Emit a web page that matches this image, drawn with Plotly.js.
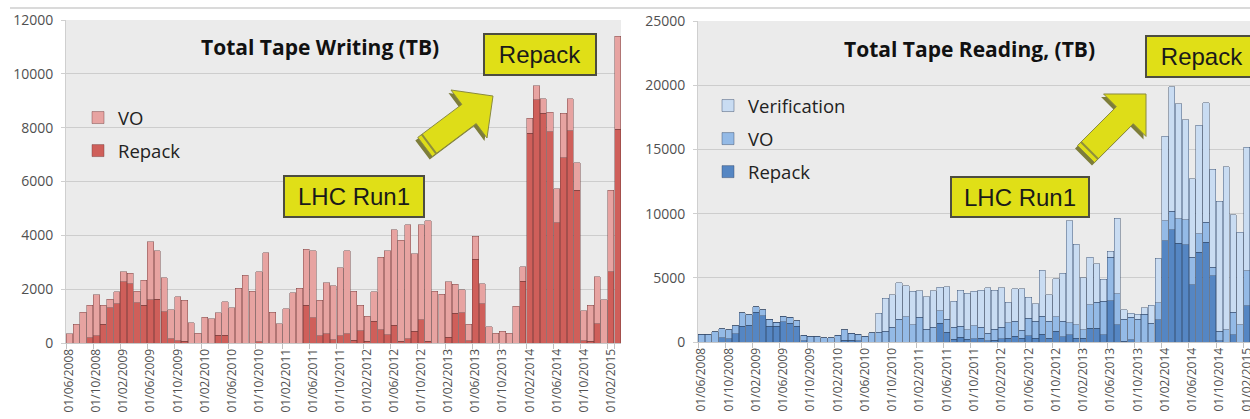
<!DOCTYPE html>
<html>
<head>
<meta charset="utf-8">
<script src="https://cdn.plot.ly/plotly-3.0.1.min.js"></script>
<style>
  html, body { margin: 0; padding: 0; background: #ffffff; overflow: hidden; }
  #chart { width: 1300px; height: 419px; }
</style>
</head>
<body>
<div id="chart"></div>
<script>
// ---------- DATA ----------
const months = [
  "01/06/2008","01/07/2008","01/08/2008","01/09/2008","01/10/2008","01/11/2008","01/12/2008",
  "01/01/2009","01/02/2009","01/03/2009","01/04/2009","01/05/2009","01/06/2009","01/07/2009","01/08/2009","01/09/2009","01/10/2009","01/11/2009","01/12/2009",
  "01/01/2010","01/02/2010","01/03/2010","01/04/2010","01/05/2010","01/06/2010","01/07/2010","01/08/2010","01/09/2010","01/10/2010","01/11/2010","01/12/2010",
  "01/01/2011","01/02/2011","01/03/2011","01/04/2011","01/05/2011","01/06/2011","01/07/2011","01/08/2011","01/09/2011","01/10/2011","01/11/2011","01/12/2011",
  "01/01/2012","01/02/2012","01/03/2012","01/04/2012","01/05/2012","01/06/2012","01/07/2012","01/08/2012","01/09/2012","01/10/2012","01/11/2012","01/12/2012",
  "01/01/2013","01/02/2013","01/03/2013","01/04/2013","01/05/2013","01/06/2013","01/07/2013","01/08/2013","01/09/2013","01/10/2013","01/11/2013","01/12/2013",
  "01/01/2014","01/02/2014","01/03/2014","01/04/2014","01/05/2014","01/06/2014","01/07/2014","01/08/2014","01/09/2014","01/10/2014","01/11/2014","01/12/2014",
  "01/01/2015","01/02/2015","01/03/2015"
];

// Total Tape Writing (TB)
const writeRepack = [
  0,0,0,190,270,690,1310,1460,2270,2200,1500,1400,1600,1620,1160,160,90,60,0,0,
  0,0,290,290,0,0,0,0,50,0,0,0,0,0,0,1410,930,270,350,130,
  270,340,100,460,60,810,500,310,660,60,150,440,870,60,0,0,210,1100,1120,90,
  3120,1460,0,0,0,0,0,2300,7790,9030,8540,7850,4460,6890,7880,5670,90,60,720,0,
  2650,7950
];
const writeVO = [
  340,690,1150,1210,1530,710,310,440,370,390,430,940,2170,1810,1270,1080,1620,1530,750,370,
  960,900,830,1240,1310,2030,2520,1930,2600,3360,1150,710,1270,1870,2030,2080,2490,1320,1890,1990,
  2530,3090,1830,950,940,1100,2680,3120,3540,3760,4250,2870,3530,4490,1930,1810,2060,1080,850,600,
  850,750,600,370,440,370,1370,540,560,520,530,720,1270,1650,1190,1020,1100,1340,1750,1600,
  3020,3450
];

// Total Tape Reading, (TB)
const readRepack = [
  0,0,0,340,260,660,1210,1320,2310,2050,1210,1210,1580,1470,1210,80,0,0,0,0,
  0,150,150,80,0,0,0,0,0,0,0,0,0,0,0,1460,750,230,360,230,
  250,300,100,150,250,300,450,300,500,300,600,300,820,400,550,300,300,1080,1080,550,
  3220,1350,50,160,0,0,0,1720,7900,8740,7700,7590,4470,6990,7770,5170,100,0,570,0,
  2830,null
];
const readVO = [
  600,600,790,710,710,600,1080,790,450,450,550,320,420,450,450,450,450,450,320,320,
  540,810,550,540,440,730,750,830,1140,1790,1980,1330,1920,1010,1140,990,1040,910,860,730,
  1020,840,600,850,900,1200,1150,600,1350,1300,1400,1300,1130,1200,950,1050,650,1820,2010,2620,
  3380,2390,1740,1770,1790,2180,1480,1330,1560,1460,1900,1950,2130,1430,1560,650,730,940,1740,1350,
  2730,null
];
const readVerification = [
  0,0,0,0,0,0,0,0,0,0,0,0,0,0,0,0,0,0,0,0,
  0,0,0,0,0,0,1480,2570,2550,2830,2420,2630,2080,2520,2860,1820,2520,2030,2830,2830,
  2680,2910,3520,3030,3070,1590,2560,3260,1640,1390,3600,2090,2970,3740,7940,6260,4050,3720,3010,1700,
  480,5880,730,310,390,470,1400,3480,6580,9670,8970,7770,6110,8450,9310,7620,10140,12690,7590,7200,
  9620,null
];

const tickEvery4 = months.filter((m, i) => i % 4 === 0);

// ---------- GEOMETRY HELPERS ----------
const W = 1300, H = 419;
const px = p => p / W;
const py = p => 1 - p / H;

function arrowPath(tail, tip, shaftHalf, headHalf, headLen, dx, dy) {
  dx = dx || 0; dy = dy || 0;
  const vx = tip[0] - tail[0], vy = tip[1] - tail[1];
  const L = Math.hypot(vx, vy);
  const ux = vx / L, uy = vy / L;
  const nx = -uy, ny = ux;
  const bx = tip[0] - ux * headLen, by = tip[1] - uy * headLen;
  const pts = [
    [tail[0] + nx * shaftHalf, tail[1] + ny * shaftHalf],
    [bx + nx * shaftHalf, by + ny * shaftHalf],
    [bx + nx * headHalf, by + ny * headHalf],
    [tip[0], tip[1]],
    [bx - nx * headHalf, by - ny * headHalf],
    [bx - nx * shaftHalf, by - ny * shaftHalf],
    [tail[0] - nx * shaftHalf, tail[1] - ny * shaftHalf]
  ];
  return 'M ' + pts.map(p => px(p[0] + dx).toFixed(5) + ' ' + py(p[1] + dy).toFixed(5)).join(' L ') + ' Z';
}
function tailBand(tail, tip, shaftHalf, off) {
  const vx = tip[0] - tail[0], vy = tip[1] - tail[1];
  const L = Math.hypot(vx, vy);
  const ux = vx / L, uy = vy / L;
  const nx = -uy, ny = ux;
  const cx = tail[0] + ux * off, cy = tail[1] + uy * off;
  return 'M ' + px(cx + nx * shaftHalf).toFixed(5) + ' ' + py(cy + ny * shaftHalf).toFixed(5) +
         ' L ' + px(cx - nx * shaftHalf).toFixed(5) + ' ' + py(cy - ny * shaftHalf).toFixed(5);
}

// ---------- TRACES ----------
const outlineRed = 'rgba(110,60,60,0.55)';
const outlineBlue = 'rgba(50,70,100,0.55)';
const traces = [
  { type: 'bar', name: 'Repack', x: months, y: writeRepack, xaxis: 'x', yaxis: 'y',
    marker: { color: '#cf5f5a', line: { color: outlineRed, width: 0.8 } },
    legend: 'legend', legendgroup: 'wr', legendrank: 2 },
  { type: 'bar', name: 'VO', x: months, y: writeVO, xaxis: 'x', yaxis: 'y',
    marker: { color: '#e7a3a1', line: { color: outlineRed, width: 0.8 } },
    legend: 'legend', legendgroup: 'wv', legendrank: 1 },
  { type: 'bar', name: 'Repack', x: months, y: readRepack, xaxis: 'x2', yaxis: 'y2',
    marker: { color: '#5586c3', line: { color: outlineBlue, width: 0.8 } },
    legend: 'legend2', legendgroup: 'rr', legendrank: 3 },
  { type: 'bar', name: 'VO', x: months, y: readVO, xaxis: 'x2', yaxis: 'y2',
    marker: { color: '#94bae6', line: { color: outlineBlue, width: 0.8 } },
    legend: 'legend2', legendgroup: 'rv', legendrank: 2 },
  { type: 'bar', name: 'Verification', x: months, y: readVerification, xaxis: 'x2', yaxis: 'y2',
    marker: { color: '#c9dcf2', line: { color: outlineBlue, width: 0.8 } },
    legend: 'legend2', legendgroup: 'rf', legendrank: 1 }
];

// ---------- LAYOUT ----------
const tickFontX = { family: 'Open Sans, sans-serif', size: 12, color: '#505050' };
const tickFontY = { family: 'Open Sans, sans-serif', size: 14, color: '#505050' };
function xAxis(domain) {
  return {
    domain: domain, type: 'category', range: [-0.5, 81.5],
    tickmode: 'array', tickvals: tickEvery4, ticktext: tickEvery4,
    tickangle: -90, tickfont: tickFontX, tickson: 'boundaries',
    ticks: 'outside', ticklen: 5, tickcolor: '#c0c0c0',
    showgrid: false, showline: true, linecolor: '#c8c8c8', linewidth: 1,
    fixedrange: true
  };
}
function yAxis(domain, anchor, max, dtick) {
  return {
    domain: domain, anchor: anchor, range: [0, max], dtick: dtick, tickformat: 'd',
    tickfont: tickFontY, ticks: 'outside', ticklen: 4, tickcolor: '#cfcfcf',
    ticklabelstandoff: 5,
    showgrid: true, gridcolor: '#cdcdcd', gridwidth: 1,
    showline: true, linecolor: '#cfcfcf', zeroline: false, fixedrange: true
  };
}

const boxStyle = {
  showarrow: false, xref: 'paper', yref: 'paper', xanchor: 'center', yanchor: 'middle',
  bgcolor: '#e0df17', bordercolor: '#4d4d40', borderwidth: 2, borderpad: 5,
  font: { family: 'Liberation Sans, Arial, sans-serif', size: 24, color: '#1a1a1a' }
};
const titleFont = { family: 'Open Sans, sans-serif', size: 21, color: '#111111' };

const legendCommon = {
  xanchor: 'left', yanchor: 'top', bgcolor: 'rgba(0,0,0,0)',
  font: { family: 'Open Sans, sans-serif', size: 18.5, color: '#222222' },
  traceorder: 'grouped', tracegroupgap: 6, itemwidth: 30,
  itemclick: false, itemdoubleclick: false
};

const arrowL = { tail: [425, 147], tip: [493, 96] };
const arrowR = { tail: [1086, 154], tip: [1146, 94] };

const shapes = [
  { type: 'line', xref: 'paper', yref: 'paper', x0: px(10), x1: px(1300), y0: py(8), y1: py(8),
    line: { color: '#b5b5b5', width: 1 } }
];
[arrowL, arrowR].forEach(a => {
  shapes.push({ type: 'path', xref: 'paper', yref: 'paper', path: arrowPath(a.tail, a.tip, 12, 30, 30, -2.5, 3),
    fillcolor: '#7d7d3a', line: { width: 0 } });
  shapes.push({ type: 'path', xref: 'paper', yref: 'paper', path: arrowPath(a.tail, a.tip, 12, 30, 30),
    fillcolor: '#dedd18', line: { color: '#8a8a40', width: 1 } });
  shapes.push({ type: 'path', xref: 'paper', yref: 'paper', path: tailBand(a.tail, a.tip, 12, 5),
    line: { color: '#8f8f3c', width: 2 } });
});

const layout = {
  width: W, height: H,
  margin: { l: 0, r: 0, t: 0, b: 0 },
  paper_bgcolor: '#ffffff', plot_bgcolor: '#ebebeb',
  barmode: 'stack', bargap: 0.08,
  showlegend: true,
  xaxis: xAxis([px(66), px(621)]),
  yaxis: yAxis([py(343), py(20)], 'x', 12000, 2000),
  xaxis2: Object.assign(xAxis([px(698), px(1257)]), { anchor: 'y2' }),
  yaxis2: yAxis([py(342), py(21)], 'x2', 25000, 5000),
  legend: Object.assign({ x: px(78), y: py(99) }, legendCommon),
  legend2: Object.assign({ x: px(708), y: py(87) }, legendCommon),
  shapes: shapes,
  annotations: [
    { text: '<b>Total Tape Writing (TB)</b>', xref: 'paper', yref: 'paper', x: px(320), y: py(47),
      xanchor: 'center', yanchor: 'middle', showarrow: false, font: titleFont },
    { text: '<b>Total Tape Reading, (TB)</b>', xref: 'paper', yref: 'paper', x: px(969), y: py(49),
      xanchor: 'center', yanchor: 'middle', showarrow: false, font: titleFont },
    Object.assign({ text: 'LHC Run1', x: px(354), y: py(196.5), width: 128, height: 29 }, boxStyle),
    Object.assign({ text: 'Repack', x: px(540), y: py(54.5), width: 100, height: 29 }, boxStyle),
    Object.assign({ text: 'LHC Run1', x: px(1020), y: py(197), width: 126, height: 28 }, boxStyle),
    Object.assign({ text: 'Repack', x: px(1202), y: py(56.5), width: 100, height: 29 }, boxStyle)
  ]
};

Plotly.newPlot('chart', traces, layout, { displayModeBar: false, staticPlot: true });
</script>
</body>
</html>
